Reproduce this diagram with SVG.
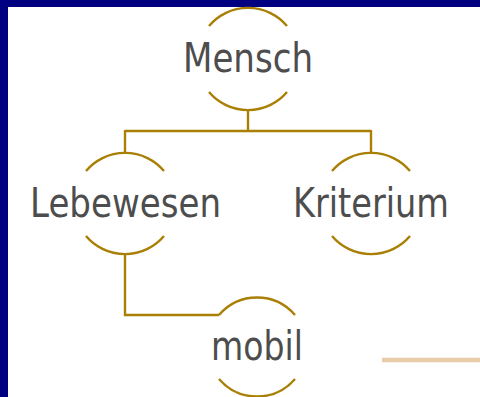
<svg xmlns="http://www.w3.org/2000/svg" width="480" height="397" viewBox="0 0 480 397">
  <style>
    .arc { fill: none; stroke: #a98005; stroke-width: 2.4; }
    .conn { fill: none; stroke: #a98005; stroke-width: 2.4; }
    .lbl { font-family: "DejaVu Sans", "Liberation Sans", sans-serif; font-size: 40px; fill: #4d4d4d; text-anchor: middle; }
  </style>
  <rect x="0" y="0" width="480" height="397" fill="#ffffff"/>
  <rect x="0" y="0" width="480" height="7" fill="#000080"/>
  <rect x="0" y="0" width="8" height="397" fill="#000080"/>
  <line x1="382" y1="360" x2="480" y2="360" stroke="#e8cba8" stroke-width="4.5"/>
  <g id="connectors">
    <path class="conn" d="M248 110 V131"/>
    <path class="conn" d="M125 131 H371"/>
    <path class="conn" d="M125 130 V152"/>
    <path class="conn" d="M371 130 V152"/>
    <path class="conn" d="M125 254 V315 H219"/>
  </g>
  <g id="mensch">
    <path class="arc" d="M209 26 A51 51 0 0 1 287 26"/>
    <path class="arc" d="M287 92 A51 51 0 0 1 209 92"/>
    <text class="lbl" x="248" y="72" textLength="130" lengthAdjust="spacingAndGlyphs">Mensch</text>
  </g>
  <g id="lebewesen">
    <path class="arc" d="M86 171 A51 51 0 0 1 164 171"/>
    <path class="arc" d="M164 236 A51 51 0 0 1 86 236"/>
    <text class="lbl" x="125.5" y="217" textLength="191" lengthAdjust="spacingAndGlyphs">Lebewesen</text>
  </g>
  <g id="kriterium">
    <path class="arc" d="M332 171 A51 51 0 0 1 410 171"/>
    <path class="arc" d="M410 236 A51 51 0 0 1 332 236"/>
    <text class="lbl" x="371" y="217" textLength="156" lengthAdjust="spacingAndGlyphs">Kriterium</text>
  </g>
  <g id="mobil">
    <path class="arc" d="M219 315 A50 50 0 0 1 295 315"/>
    <path class="arc" d="M295 379 A50 50 0 0 1 219 379"/>
    <text class="lbl" x="257" y="360" textLength="92" lengthAdjust="spacingAndGlyphs">mobil</text>
  </g>
</svg>
